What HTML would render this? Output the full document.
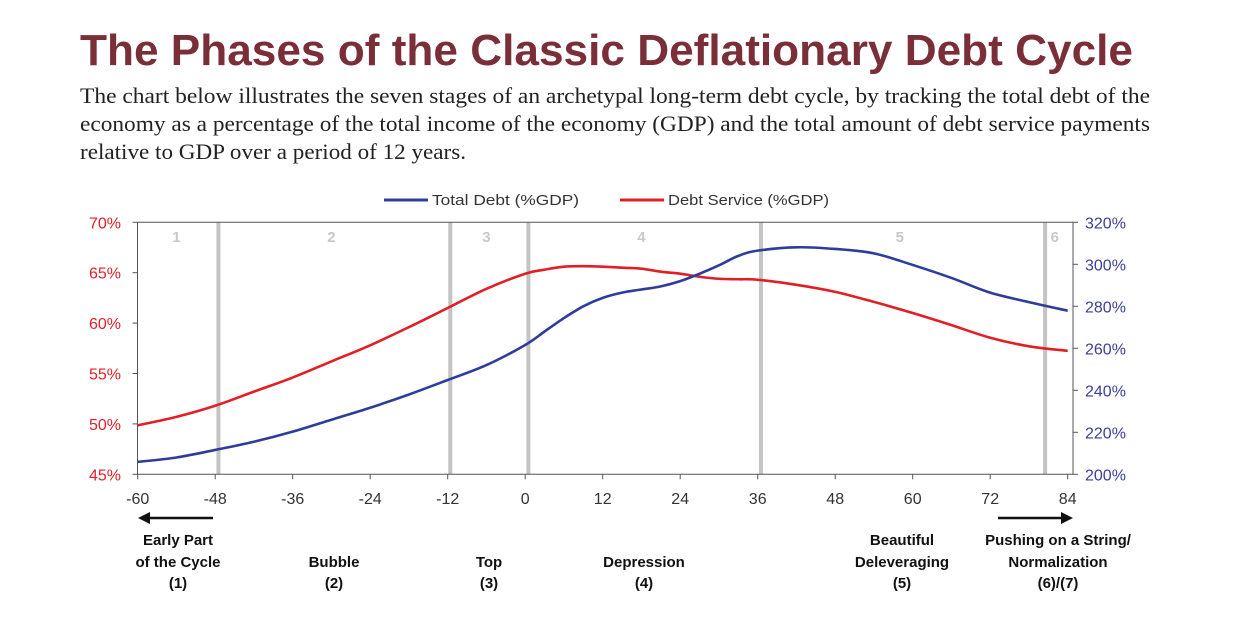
<!DOCTYPE html>
<html><head><meta charset="utf-8"><style>
body{margin:0;background:#fff;width:1241px;height:628px;overflow:hidden}
svg{display:block}
</style></head><body>
<svg id="c" width="1241" height="628" xmlns="http://www.w3.org/2000/svg">
<text x="80" y="65" font-family="Liberation Sans, sans-serif" font-weight="bold" font-size="44" fill="#7a2f38" textLength="1053" lengthAdjust="spacingAndGlyphs">The Phases of the Classic Deflationary Debt Cycle</text>
<g font-family="Liberation Serif, serif" font-size="22" fill="#222">
<text x="80" y="103" textLength="1070" lengthAdjust="spacingAndGlyphs">The chart below illustrates the seven stages of an archetypal long-term debt cycle, by tracking the total debt of the</text>
<text x="80" y="131" textLength="1070" lengthAdjust="spacingAndGlyphs">economy as a percentage of the total income of the economy (GDP) and the total amount of debt service payments</text>
<text x="80" y="159" textLength="386" lengthAdjust="spacingAndGlyphs">relative to GDP over a period of 12 years.</text>
</g>
<g font-family="Liberation Sans, sans-serif" font-size="15" fill="#333">
<line x1="384" y1="200" x2="428" y2="200" stroke="#2e3d9a" stroke-width="3"/>
<text x="432" y="205" textLength="147" lengthAdjust="spacingAndGlyphs">Total Debt (%GDP)</text>
<line x1="620" y1="200" x2="664" y2="200" stroke="#e01f26" stroke-width="3"/>
<text x="668" y="205" textLength="161" lengthAdjust="spacingAndGlyphs">Debt Service (%GDP)</text>
</g>
<g id="plot"></g>
<g font-family="Liberation Sans, sans-serif" font-weight="bold" font-size="15" fill="#111" text-anchor="middle">
<path d="M213 518 H148" stroke="#111" stroke-width="2.5"/><path d="M138 518 L150 512 L150 524Z" fill="#111"/>
<path d="M998 518 H1062" stroke="#111" stroke-width="2.5"/><path d="M1073 518 L1061 512 L1061 524Z" fill="#111"/>
<text x="178" y="545">Early Part</text><text x="178" y="567">of the Cycle</text><text x="178" y="588">(1)</text>
<text x="334" y="567">Bubble</text><text x="334" y="588">(2)</text>
<text x="489" y="567">Top</text><text x="489" y="588">(3)</text>
<text x="644" y="567">Depression</text><text x="644" y="588">(4)</text>
<text x="902" y="545">Beautiful</text><text x="902" y="567">Deleveraging</text><text x="902" y="588">(5)</text>
<text x="1058" y="545">Pushing on a String/</text><text x="1058" y="567">Normalization</text><text x="1058" y="588">(6)/(7)</text>
</g>
</svg>
<script>
const months=[-60,-54,-48,-42,-36,-30,-24,-18,-12,-6,0,3,6,9,12,15,18,21,24,27,30,33,36,42,48,54,60,66,72,78,84];
const totalDebt=[205.9,208,211.6,215.5,220.3,226,231.7,238,244.9,252,261.6,268,274.4,280,284,286.5,288,289.5,292,295.5,299.5,304,306.5,308.1,307.3,305.2,299.7,293.5,286.5,282,277.9];
const debtService=[49.86,50.7,51.8,53.2,54.6,56.2,57.8,59.6,61.5,63.4,64.9,65.3,65.6,65.65,65.6,65.5,65.4,65.1,64.9,64.6,64.4,64.35,64.3,63.8,63.1,62.1,61.0,59.8,58.55,57.7,57.25];
const xTicks=[-60,-48,-36,-24,-12,0,12,24,36,48,60,72,84];
const leftTicks=[45,50,55,60,65,70];
const rightTicks=[200,220,240,260,280,300,320];
const phaseLines=[-47.5,-11.6,0.5,36.5,80.5];
const phaseNums=["1","2","3","4","5","6"];
const phaseMid=[-54,-30,-6,18,58,82];
const NS="http://www.w3.org/2000/svg";
const L=137.5,R=1073,T=222.3,B=474.3;
const X=m=>137.7+(m+60)*(930/144);
const YL=v=>B-(v-45)/25*(B-T);
const YR=v=>B-(v-200)/120*(B-T);
const g=document.getElementById('plot');
function mk(t,a,p){const e=document.createElementNS(NS,t);for(const k in a)e.setAttribute(k,a[k]);(p||g).appendChild(e);return e;}
phaseLines.forEach(m=>{const e=mk('line',{x1:X(m),x2:X(m),y1:T,y2:B,stroke:'#c4c4c4','stroke-width':4});

});
phaseNums.forEach((n,i)=>{const e=mk('text',{x:X(phaseMid[i]),y:242,'text-anchor':'middle','font-family':'Liberation Sans, sans-serif','font-weight':'bold','font-size':15,fill:'#c8c8c8'});e.textContent=n;

});
mk('path',{d:`M${L} ${B} V${T} H${R} V${B} Z`,fill:'none',stroke:'#555','stroke-width':1});
xTicks.forEach(m=>{mk('line',{x1:X(m),x2:X(m),y1:B,y2:B+5,stroke:'#555'});const e=mk('text',{x:X(m),y:504,'text-anchor':'middle','font-family':'Liberation Sans, sans-serif','font-size':16,fill:'#333'});e.textContent=m;

});
leftTicks.forEach(v=>{mk('line',{x1:L-5,x2:L,y1:YL(v),y2:YL(v),stroke:'#555'});const e=mk('text',{x:121,y:YL(v)+6,'text-anchor':'end','font-family':'Liberation Sans, sans-serif','font-size':16,fill:'#e0202a'});e.textContent=v+'%';

});
rightTicks.forEach(v=>{mk('line',{x1:R,x2:R+5,y1:YR(v),y2:YR(v),stroke:'#555'});const e=mk('text',{x:1085,y:YR(v)+6,'font-family':'Liberation Sans, sans-serif','font-size':16,fill:'#3a3f9a'});e.textContent=v+'%';

});
function smooth(pts){let d=`M${pts[0][0]} ${pts[0][1]}`;for(let i=0;i<pts.length-1;i++){const p0=pts[i-1]||pts[i],p1=pts[i],p2=pts[i+1],p3=pts[i+2]||p2;
const c1=[p1[0]+(p2[0]-p0[0])/6,p1[1]+(p2[1]-p0[1])/6],c2=[p2[0]-(p3[0]-p1[0])/6,p2[1]-(p3[1]-p1[1])/6];
d+=` C${c1[0]} ${c1[1]} ${c2[0]} ${c2[1]} ${p2[0]} ${p2[1]}`;}return d;}
const ds=mk('path',{d:smooth(months.map((m,i)=>[X(m),YL(debtService[i])])),fill:'none',stroke:'#e01f26','stroke-width':2.6});


const td=mk('path',{d:smooth(months.map((m,i)=>[X(m),YR(totalDebt[i])])),fill:'none',stroke:'#2e3d9a','stroke-width':2.6});


</script>
</body></html>
